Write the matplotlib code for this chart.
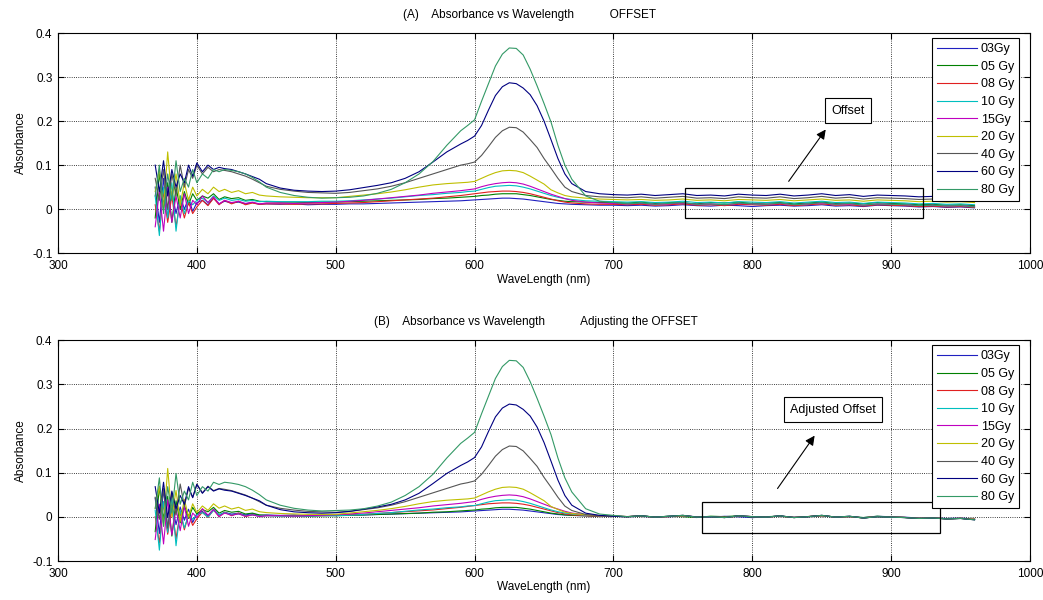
import numpy as np
import matplotlib
matplotlib.use("Agg")
import matplotlib.pyplot as plt
from matplotlib.patches import Rectangle

plt.rcParams['font.family'] = ['Liberation Sans Narrow', 'Liberation Sans', 'DejaVu Sans']

# sample wavelengths (nm)
wavelength = [370, 373, 376, 379, 382, 385, 388, 391, 394, 397, 400,
              404, 408, 412, 416,
              420, 425, 430, 435, 440, 445, 450,
              460, 470, 480, 490, 500, 510, 520, 530, 540, 550, 560, 570, 580, 590,
              595, 600, 605, 610, 615, 620, 625, 630, 635, 640, 645, 650, 655, 660, 665, 670,
              680, 690, 700,
              710, 720, 730, 740, 750, 760, 770, 780, 790, 800, 810, 820, 830,
              840, 850, 860, 870, 880, 890, 900, 910, 920, 930, 940, 950, 960]

labels = ['03Gy', '05 Gy', '08 Gy', '10 Gy', '15Gy', '20 Gy', '40 Gy', '60 Gy', '80 Gy']
colors = ['#2020c0', '#008000', '#e02020', '#00bfbf', '#bf00bf',
          '#bfbf00', '#555555', '#000080', '#339966']

# raw absorbance, before offset correction
abs_03 = [0.05, -0.03, 0.07, -0.02, 0.04, -0.01, 0.03, 0.00, 0.025, -0.005, 0.015,
          0.02, 0.01, 0.025, 0.012,
          0.018, 0.014, 0.016, 0.012, 0.015, 0.011, 0.012,
          0.011, 0.012, 0.010, 0.011, 0.011, 0.012, 0.012, 0.013, 0.014, 0.015, 0.016, 0.017, 0.018, 0.019,
          0.020, 0.021, 0.022, 0.023, 0.024, 0.025, 0.025, 0.024, 0.023, 0.021, 0.019, 0.017, 0.015, 0.013, 0.012, 0.011,
          0.010, 0.009, 0.009,
          0.008, 0.009, 0.007, 0.008, 0.010, 0.008, 0.007, 0.009, 0.008, 0.006, 0.008, 0.009, 0.007,
          0.008, 0.010, 0.007, 0.008, 0.006, 0.009, 0.008, 0.007, 0.005, 0.006, 0.004, 0.005, 0.003]
abs_05 = [-0.02, 0.08, 0.01, 0.06, -0.03, 0.05, 0.00, 0.04, 0.01, 0.035, 0.02,
          0.03, 0.025, 0.035, 0.022,
          0.028, 0.024, 0.026, 0.02, 0.022, 0.018, 0.017,
          0.016, 0.016, 0.015, 0.016, 0.016, 0.017, 0.018, 0.019, 0.020, 0.021, 0.022, 0.024, 0.025, 0.027,
          0.028, 0.029, 0.031, 0.032, 0.034, 0.035, 0.035, 0.035, 0.033, 0.031, 0.028, 0.025, 0.022, 0.020, 0.018, 0.017,
          0.016, 0.015, 0.015,
          0.014, 0.016, 0.013, 0.015, 0.014, 0.012, 0.015, 0.014, 0.016, 0.013, 0.014, 0.015, 0.012,
          0.014, 0.016, 0.013, 0.014, 0.012, 0.015, 0.013, 0.012, 0.010, 0.011, 0.009, 0.010, 0.008]
abs_08 = [0.01, -0.05, 0.04, -0.03, 0.03, -0.04, 0.02, -0.02, 0.015, -0.01, 0.005,
          0.02, 0.008, 0.025, 0.01,
          0.02, 0.012, 0.018, 0.01, 0.014, 0.011, 0.012,
          0.012, 0.011, 0.012, 0.012, 0.013, 0.014, 0.015, 0.017, 0.019, 0.021, 0.023, 0.025, 0.028, 0.031,
          0.033, 0.035, 0.037, 0.039, 0.040, 0.041, 0.041, 0.040, 0.038, 0.035, 0.031, 0.027, 0.023, 0.019, 0.016, 0.014,
          0.012, 0.011, 0.011,
          0.010, 0.011, 0.009, 0.010, 0.012, 0.009, 0.010, 0.008, 0.011, 0.010, 0.009, 0.011, 0.008,
          0.010, 0.012, 0.009, 0.010, 0.007, 0.010, 0.009, 0.008, 0.006, 0.007, 0.005, 0.006, 0.004]
abs_10 = [0.03, -0.06, 0.05, -0.02, 0.06, -0.05, 0.03, -0.01, 0.02, 0.01, 0.02,
          0.025, 0.015, 0.03, 0.02,
          0.025, 0.02, 0.022, 0.018, 0.02, 0.017, 0.018,
          0.017, 0.017, 0.017, 0.018, 0.018, 0.019, 0.021, 0.023, 0.025, 0.028, 0.031, 0.033, 0.036, 0.038,
          0.040, 0.041, 0.045, 0.049, 0.052, 0.053, 0.054, 0.053, 0.050, 0.046, 0.041, 0.036, 0.031, 0.027, 0.024, 0.022,
          0.019, 0.018, 0.017,
          0.016, 0.017, 0.015, 0.016, 0.018, 0.015, 0.016, 0.014, 0.017, 0.016, 0.015, 0.017, 0.014,
          0.016, 0.018, 0.015, 0.016, 0.013, 0.016, 0.015, 0.014, 0.012, 0.013, 0.011, 0.012, 0.010]
abs_15 = [-0.04, 0.04, -0.05, 0.05, -0.03, 0.03, -0.02, 0.035, -0.01, 0.02, 0.01,
          0.03, 0.015, 0.028, 0.012,
          0.02, 0.015, 0.018, 0.013, 0.016, 0.012, 0.014,
          0.014, 0.013, 0.014, 0.015, 0.016, 0.018, 0.020, 0.023, 0.026, 0.029, 0.032, 0.036, 0.039, 0.042,
          0.044, 0.046, 0.051, 0.055, 0.058, 0.060, 0.061, 0.060, 0.057, 0.052, 0.046, 0.040, 0.034, 0.029, 0.024, 0.020,
          0.016, 0.014, 0.013,
          0.012, 0.013, 0.011, 0.012, 0.014, 0.011, 0.012, 0.010, 0.013, 0.012, 0.011, 0.013, 0.010,
          0.012, 0.014, 0.011, 0.012, 0.009, 0.012, 0.011, 0.010, 0.008, 0.009, 0.007, 0.008, 0.006]
abs_20 = [0.04, 0.09, 0.0, 0.13, 0.02, 0.08, 0.01, 0.06, 0.02, 0.05, 0.03,
          0.045, 0.035, 0.05, 0.04,
          0.045, 0.038, 0.042, 0.035, 0.038, 0.032, 0.03,
          0.028, 0.027, 0.026, 0.026, 0.026, 0.029, 0.032, 0.035, 0.039, 0.044, 0.050, 0.055, 0.058, 0.060,
          0.061, 0.063, 0.070, 0.077, 0.083, 0.087, 0.088, 0.087, 0.083, 0.075, 0.066, 0.057, 0.044, 0.037, 0.031, 0.028,
          0.025, 0.023, 0.022,
          0.021, 0.022, 0.020, 0.021, 0.023, 0.020, 0.021, 0.019, 0.022, 0.021, 0.020, 0.022, 0.019,
          0.021, 0.023, 0.020, 0.021, 0.018, 0.021, 0.020, 0.019, 0.017, 0.018, 0.016, 0.017, 0.015]
abs_40 = [0.07, 0.02, 0.09, 0.0, 0.08, 0.03, 0.1, 0.05, 0.09, 0.07, 0.1,
          0.08, 0.095, 0.085, 0.09,
          0.088, 0.085, 0.08, 0.075, 0.068, 0.06, 0.052,
          0.045, 0.041, 0.038, 0.037, 0.036, 0.038, 0.042, 0.046, 0.052, 0.060, 0.070, 0.080, 0.090, 0.100,
          0.103, 0.107, 0.122, 0.142, 0.163, 0.178, 0.186, 0.185, 0.175, 0.158, 0.140, 0.115, 0.093, 0.070, 0.050, 0.040,
          0.031, 0.028, 0.027,
          0.026, 0.028, 0.025, 0.027, 0.029, 0.025, 0.026, 0.024, 0.028, 0.026, 0.025, 0.028, 0.024,
          0.026, 0.029, 0.025, 0.027, 0.023, 0.026, 0.025, 0.024, 0.022, 0.023, 0.021, 0.022, 0.019]
abs_60 = [0.1, 0.04, 0.11, 0.03, 0.09, 0.05, 0.08, 0.06, 0.1, 0.075, 0.105,
          0.085, 0.1, 0.09, 0.095,
          0.092, 0.09, 0.085, 0.08, 0.074, 0.068, 0.058,
          0.048, 0.043, 0.041, 0.040, 0.041, 0.044, 0.049, 0.054, 0.060, 0.070, 0.085, 0.107, 0.130, 0.148,
          0.156, 0.166, 0.19, 0.225, 0.258, 0.278, 0.287, 0.285, 0.275, 0.260, 0.235, 0.200, 0.158, 0.115, 0.080, 0.058,
          0.040, 0.035, 0.033,
          0.032, 0.034, 0.031, 0.033, 0.035, 0.031, 0.032, 0.030, 0.034, 0.032, 0.031, 0.034, 0.030,
          0.032, 0.035, 0.031, 0.033, 0.029, 0.032, 0.031, 0.030, 0.028, 0.029, 0.027, 0.028, 0.025]
abs_80 = [0.03, 0.1, -0.01, 0.08, 0.02, 0.11, 0.04, 0.07, 0.05, 0.09, 0.06,
          0.08, 0.07, 0.09, 0.085,
          0.09, 0.088, 0.085, 0.08, 0.072, 0.062, 0.05,
          0.038, 0.031, 0.027, 0.025, 0.026, 0.027, 0.030, 0.036, 0.045, 0.060, 0.080, 0.108, 0.145, 0.178,
          0.190, 0.203, 0.245, 0.285, 0.325, 0.352, 0.366, 0.365, 0.350, 0.318, 0.280, 0.240, 0.198, 0.145, 0.100, 0.068,
          0.030, 0.018, 0.015,
          0.012, 0.014, 0.011, 0.013, 0.015, 0.011, 0.012, 0.010, 0.014, 0.012, 0.011, 0.014, 0.010,
          0.012, 0.015, 0.011, 0.013, 0.009, 0.012, 0.011, 0.010, 0.008, 0.009, 0.007, 0.008, 0.005]

raw = [abs_03, abs_05, abs_08, abs_10, abs_15, abs_20, abs_40, abs_60, abs_80]

wl = np.array(wavelength)
raw = np.array(raw)

# offset = mean level of each spectrum in the flat 750-925 nm band
band = (wl >= 750) & (wl <= 925)
offset = raw[:, band].mean(axis=1)
adjusted = raw - offset[:, None]


def style_axes(ax, title, title_x):
    ax.set_xlim(300, 1000)
    ax.set_ylim(-0.1, 0.4)
    ax.set_xticks(range(300, 1001, 100))
    ax.set_yticks([-0.1, 0, 0.1, 0.2, 0.3, 0.4])
    ax.set_yticklabels(['-0.1', '0', '0.1', '0.2', '0.3', '0.4'])
    ax.tick_params(direction='in', length=4, width=0.8, labelsize=8.5,
                   top=True, right=True)
    ax.tick_params(axis='x', pad=5)
    ax.tick_params(axis='y', pad=4)
    ax.grid(True, linestyle=':', color='k', linewidth=0.6)
    for s in ax.spines.values():
        s.set_linewidth(0.8)
    ax.set_xlabel('WaveLength (nm)', fontsize=8.5, labelpad=1)
    ax.set_ylabel('Absorbance', fontsize=8.5, labelpad=4)
    ax.set_title(title, fontsize=8.5, x=title_x, pad=11)
    leg = ax.legend(loc='upper right', bbox_to_anchor=(0.9887, 0.977),
                    borderaxespad=0, fancybox=False, framealpha=1,
                    edgecolor='k', handlelength=3.2, handletextpad=0.3,
                    labelspacing=0.45, borderpad=0.4,
                    prop={'family': 'Liberation Sans', 'size': 9})
    leg.get_frame().set_linewidth(0.8)


fig = plt.figure(figsize=(10.43, 6), dpi=100)
axA = fig.add_axes([0.0556, 0.578, 0.932, 0.367])
axB = fig.add_axes([0.0556, 0.065, 0.932, 0.368])

for k in range(len(labels)):
    axA.plot(wl, raw[k], color=colors[k], lw=0.8, label=labels[k])
    axB.plot(wl, adjusted[k], color=colors[k], lw=0.8, label=labels[k])

style_axes(axA, '(A)    Absorbance vs Wavelength           OFFSET', 0.485)
style_axes(axB, '(B)    Absorbance vs Wavelength           Adjusting the OFFSET', 0.492)

box_kw = dict(boxstyle='square,pad=0.5', fc='white', ec='k', lw=0.8)
arrow_kw = dict(arrowstyle='-|>', color='k', lw=0.8, mutation_scale=14)

# panel A: offset band and callout
axA.add_patch(Rectangle((751.5, -0.020), 171.5, 0.067, fill=False, ec='k', lw=0.9, zorder=5))
axA.annotate('', xy=(854, 0.186), xytext=(825, 0.058), arrowprops=arrow_kw)
axA.text(869, 0.224, 'Offset', ha='center', va='center', fontsize=9,
         family='Liberation Sans', bbox=box_kw)

# panel B: corrected band and callout
axB.add_patch(Rectangle((764, -0.036), 171.5, 0.070, fill=False, ec='k', lw=0.9, zorder=5))
axB.annotate('', xy=(846, 0.189), xytext=(817, 0.059), arrowprops=arrow_kw)
axB.text(858, 0.243, 'Adjusted Offset', ha='center', va='center', fontsize=9,
         family='Liberation Sans', bbox=box_kw)

fig.savefig('out.png', dpi=100)
